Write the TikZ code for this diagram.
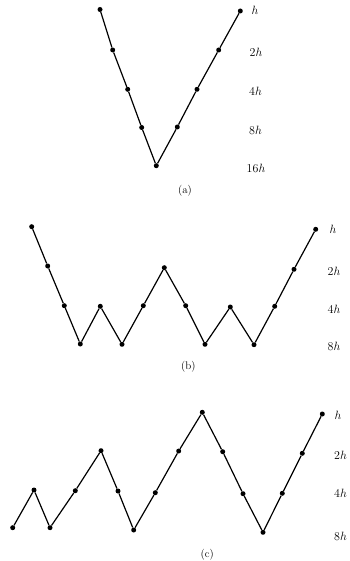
\documentclass[tikz,border=0pt]{standalone}
\begin{document}
\begin{tikzpicture}[x=1pt,y=-1pt,
  dot/.style={circle,fill=black,inner sep=0pt,minimum size=5pt},
  seg/.style={line width=1.2pt,line join=round},
  lab/.style={font=\fontsize{12}{14}\selectfont},
  figcap/.style={font=\fontsize{11}{13}\selectfont}]
\useasboundingbox (0,0) rectangle (349,561);
% (a)
\node[dot] (a1) at (100,9.5) {};
\node[dot] (a2) at (112.7,50) {};
\node[dot] (a3) at (127.7,89.3) {};
\node[dot] (a4) at (141.7,127.5) {};
\node[dot] (a5) at (156.3,165.7) {};
\node[dot] (a6) at (177.3,127) {};
\node[dot] (a7) at (197,89.3) {};
\node[dot] (a8) at (218.7,50) {};
\node[dot] (a9) at (240.3,11) {};
\draw[seg] (a1)--(a2)--(a3)--(a4)--(a5)--(a6)--(a7)--(a8)--(a9);
\node[lab] (ah) at (255,10.5) {$h$};
\node[lab] (a2h) at (256,52) {2$h$};
\node[lab] (a4h) at (255.5,91.5) {4$h$};
\node[lab] (a8h) at (255.5,130) {8$h$};
\node[lab] (a16h) at (256,168) {16$h$};
\node[figcap] (capa) at (185,190.5) {(a)};
% (b)
\node[dot] (b1) at (31.7,226.7) {};
\node[dot] (b2) at (47.7,266) {};
\node[dot] (b3) at (64.3,305.7) {};
\node[dot] (b4) at (80.3,344) {};
\node[dot] (b5) at (100.3,306.3) {};
\node[dot] (b6) at (122,344.3) {};
\node[dot] (b7) at (143.3,305.7) {};
\node[dot] (b8) at (164.3,267.7) {};
\node[dot] (b9) at (185.7,305.7) {};
\node[dot] (b10) at (205,344.3) {};
\node[dot] (b11) at (230.3,307) {};
\node[dot] (b12) at (254,344.7) {};
\node[dot] (b13) at (274.7,306.3) {};
\node[dot] (b14) at (294,269.3) {};
\node[dot] (b15) at (315.7,229.3) {};
\draw[seg] (b1)--(b2)--(b3)--(b4)--(b5)--(b6)--(b7)--(b8)--(b9)--(b10)--(b11)--(b12)--(b13)--(b14)--(b15);
\node[lab] (bh) at (333,229.3) {$h$};
\node[lab] (b2h) at (334,271.5) {2$h$};
\node[lab] (b4h) at (334,309.3) {4$h$};
\node[lab] (b8h) at (334,346.7) {8$h$};
\node[figcap] (capb) at (188.3,366.5) {(b)};
% (c)
\node[dot] (c1) at (12.7,527.7) {};
\node[dot] (c2) at (34,490) {};
\node[dot] (c3) at (50,527.7) {};
\node[dot] (c4) at (75.3,490.7) {};
\node[dot] (c5) at (101,450.7) {};
\node[dot] (c6) at (118,491) {};
\node[dot] (c7) at (133.7,530) {};
\node[dot] (c8) at (155.3,492.7) {};
\node[dot] (c9) at (178.7,451) {};
\node[dot] (c10) at (202.3,412.3) {};
\node[dot] (c11) at (222.7,451.7) {};
\node[dot] (c12) at (243,493.7) {};
\node[dot] (c13) at (263,532.3) {};
\node[dot] (c14) at (282.3,493.3) {};
\node[dot] (c15) at (302.3,453.3) {};
\node[dot] (c16) at (322.3,414) {};
\draw[seg] (c1)--(c2)--(c3)--(c4)--(c5)--(c6)--(c7)--(c8)--(c9)--(c10)--(c11)--(c12)--(c13)--(c14)--(c15)--(c16);
\node[lab] (ch) at (338,415.5) {$h$};
\node[lab] (c2h) at (340.5,455) {2$h$};
\node[lab] (c4h) at (340.5,493.3) {4$h$};
\node[lab] (c8h) at (340.5,536.5) {8$h$};
\node[figcap] (capc) at (207.3,554.5) {(c)};
\end{tikzpicture}
\end{document}
